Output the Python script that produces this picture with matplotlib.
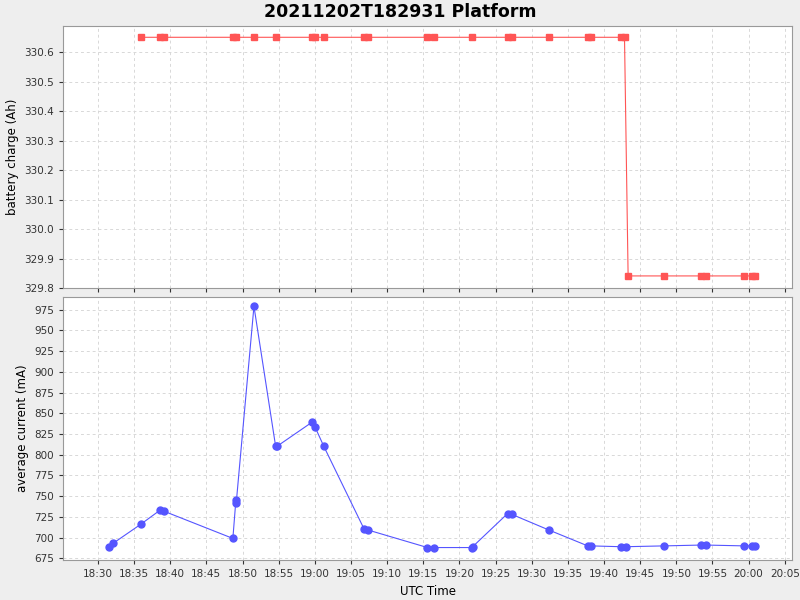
import matplotlib
matplotlib.use("Agg")
import matplotlib.pyplot as plt
import matplotlib.dates as mdates
import pandas as pd

cur_times = ["18:31:30","18:32:05","18:35:55","18:38:35","18:39:05","18:48:40","18:49:05","18:49:08",
             "18:51:35","18:54:35","18:54:45","18:59:35","19:00:00","19:01:15","19:06:50","19:07:25",
             "19:15:35","19:16:25","19:21:45","19:21:50","19:26:40","19:27:15","19:32:25","19:37:45",
             "19:38:10","19:42:20","19:43:00","19:48:20","19:53:25","19:54:05","19:59:25","20:00:25","20:00:55"]
cur_vals = [689,693,716,733,732,699,745,742,979,810,810,839,834,810,710,709,
            688,688,688,689,729,728,709,690,690,689,689,690,691,691,690,690,690]

chg_times = ["18:35:55","18:38:35","18:39:05","18:48:40","18:49:05","18:51:35","18:54:35",
             "18:59:35","19:00:00","19:01:15","19:06:50","19:07:25","19:15:35","19:16:25",
             "19:21:45","19:26:40","19:27:15","19:32:25","19:37:45","19:38:10","19:42:20","19:42:50",
             "19:43:20","19:48:20","19:53:25","19:54:05","19:59:25","20:00:25","20:00:55"]
chg_vals = [330.651]*22 + [329.841]*7

ct = pd.to_datetime(["2021-12-02 " + t for t in cur_times])
gt = pd.to_datetime(["2021-12-02 " + t for t in chg_times])

fig = plt.figure(figsize=(8, 6), dpi=100, facecolor="#EEEEEE")
ax1 = fig.add_axes([0.079, 0.52, 0.911, 0.437])
ax2 = fig.add_axes([0.079, 0.0667, 0.911, 0.438], sharex=ax1)
fig.suptitle("20211202T182931 Platform", fontsize=12.5, fontweight="bold", y=0.995)

for ax in (ax1, ax2):
    ax.set_facecolor("white")
    ax.grid(True, color="#D8D8D8", linestyle=(0, (3, 3)), linewidth=0.7)
    for s in ax.spines.values():
        s.set_color("#999999")
    ax.tick_params(labelsize=7.5, colors="#333333", length=3)

ax1.plot(gt, chg_vals, color="#FF5555", linewidth=0.8, marker="s", markersize=5)
ax1.set_ylim(329.8, 330.69)
ax1.set_yticks([329.8,329.9,330.0,330.1,330.2,330.3,330.4,330.5,330.6])
ax1.set_yticklabels(["329.8","329.9","330.0","330.1","330.2","330.3","330.4","330.5","330.6"])
ax1.set_ylabel("battery charge (Ah)", fontsize=8.5)
plt.setp(ax1.get_xticklabels(), visible=False)

ax2.plot(ct, cur_vals, color="#5555FF", linewidth=0.8, marker="o", markersize=5)
ax2.set_ylim(673, 990)
ax2.set_yticks(list(range(675, 976, 25)))
ax2.set_ylabel("average current (mA)", fontsize=8.5)
ax2.set_xlabel("UTC Time", fontsize=8.5)
ax2.set_xlim(pd.Timestamp("2021-12-02 18:25:12"), pd.Timestamp("2021-12-02 20:06:00"))
ax2.xaxis.set_major_locator(mdates.MinuteLocator(byminute=range(0, 60, 5)))
ax2.xaxis.set_major_formatter(mdates.DateFormatter("%H:%M"))

fig.savefig("out.png", dpi=100, facecolor=fig.get_facecolor())
